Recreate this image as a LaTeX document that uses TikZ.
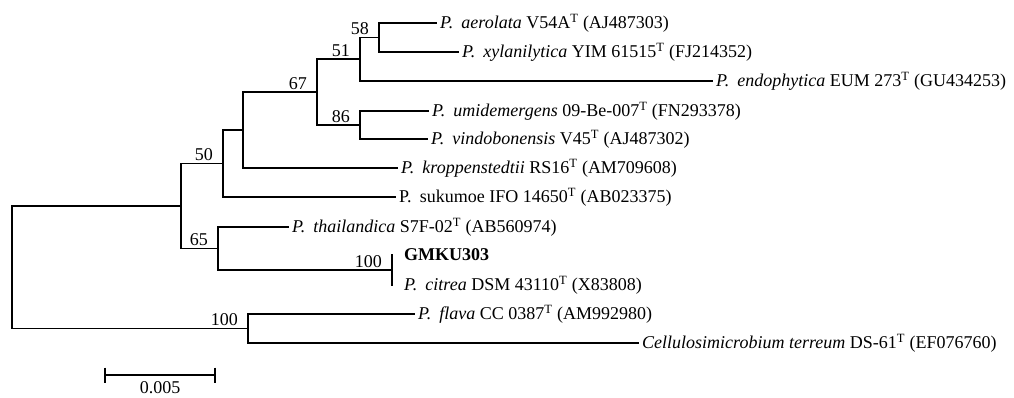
\documentclass[tikz,border=0pt]{standalone}
\usepackage{fontspec}
\setmainfont{Liberation Serif}
\usetikzlibrary{calc}
\newcommand{\gsp}{\hspace{0.45em}}
\newcommand{\supT}{\textsuperscript{T}}
\begin{document}
\begin{tikzpicture}[x=1pt,y=-1pt,
  br/.style={line width=1.7pt,line cap=rect},
  tip/.style={anchor=west,inner sep=0pt,xshift=4pt,font=\fontsize{18pt}{21pt}\selectfont},
  bs/.style={anchor=south east,inner sep=0pt,font=\fontsize{18pt}{21pt}\selectfont}]
\useasboundingbox (0,0) rectangle (1014,398);
% internal nodes
\coordinate (root) at (12,267);
\coordinate (nA) at (181,206);
\coordinate (n50) at (223,163.5);
\coordinate (nK) at (243,130);
\coordinate (n67) at (317,92);
\coordinate (n51) at (360,59);
\coordinate (n58) at (379,37.5);
\coordinate (n86) at (360,125);
\coordinate (n65) at (218,248.5);
\coordinate (n100a) at (392,270);
\coordinate (n100b) at (248,328.5);
% tips
\coordinate (eAer) at (436,23);
\coordinate (eXyl) at (458,52);
\coordinate (eEnd) at (712,81);
\coordinate (eUmi) at (428,111);
\coordinate (eVin) at (427,139);
\coordinate (eKro) at (397,168);
\coordinate (eSuk) at (395,197);
\coordinate (eTha) at (288,227);
\coordinate (eGmk) at (392,255);
\coordinate (eCit) at (392,285);
\coordinate (eFla) at (414,314);
\coordinate (eCel) at (638,343);
\node[tip] (tAer) at (eAer) {\textit{P.\gsp aerolata} V54A\supT{} (AJ487303)};
\node[tip] (tXyl) at (eXyl) {\textit{P.\gsp xylanilytica} YIM 61515\supT{} (FJ214352)};
\node[tip] (tEnd) at (eEnd) {\textit{P.\gsp endophytica} EUM 273\supT{} (GU434253)};
\node[tip] (tUmi) at (eUmi) {\textit{P.\gsp umidemergens} 09-Be-007\supT{} (FN293378)};
\node[tip] (tVin) at (eVin) {\textit{P.\gsp vindobonensis} V45\supT{} (AJ487302)};
\node[tip] (tKro) at (eKro) {\textit{P.\gsp kroppenstedtii} RS16\supT{} (AM709608)};
\node[tip] (tSuk) at (eSuk) {P.\gsp sukumoe IFO 14650\supT{} (AB023375)};
\node[tip] (tTha) at (eTha) {\textit{P.\gsp thailandica} S7F-02\supT{} (AB560974)};
\node[tip,xshift=8pt] (tGmk) at (eGmk) {\textbf{GMKU303}};
\node[tip,xshift=8pt] (tCit) at (eCit) {\textit{P.\gsp citrea} DSM 43110\supT{} (X83808)};
\node[tip] (tFla) at (eFla) {\textit{P.\gsp flava} CC 0387\supT{} (AM992980)};
\node[tip] (tCel) at (eCel) {\textit{Cellulosimicrobium terreum} DS-61\supT{} (EF076760)};
% branches
\draw[br] (root) |- (nA);
\draw[br] (root) |- (n100b);
\draw[br] (nA) |- (n50);
\draw[br] (nA) |- (n65);
\draw[br] (n50) |- (nK);
\draw[br] (n50) |- (eSuk);
\draw[br] (nK) |- (n67);
\draw[br] (nK) |- (eKro);
\draw[br] (n67) |- (n51);
\draw[br] (n67) |- (n86);
\draw[br] (n51) |- (n58);
\draw[br] (n51) |- (eEnd);
\draw[br] (n58) |- (eAer);
\draw[br] (n58) |- (eXyl);
\draw[br] (n86) |- (eUmi);
\draw[br] (n86) |- (eVin);
\draw[br] (n65) |- (eTha);
\draw[br] (n65) |- (n100a);
\draw[br] (eGmk) -- (eCit);
\draw[br] (n100b) |- (eFla);
\draw[br] (n100b) |- (eCel);
% bootstrap values
\node[bs] (b58) at ($(n58)+(-10,-2.5)$) {58};
\node[bs] (b51) at ($(n51)+(-10,-2.5)$) {51};
\node[bs] (b67) at ($(n67)+(-10,-2.5)$) {67};
\node[bs] (b86) at ($(n86)+(-10,-2.5)$) {86};
\node[bs] (b50) at ($(n50)+(-10,-2.5)$) {50};
\node[bs] (b65) at ($(n65)+(-10,-2.5)$) {65};
\node[bs] (b100a) at ($(n100a)+(-10,-2.5)$) {100};
\node[bs] (b100b) at ($(n100b)+(-10,-2.5)$) {100};
% scale bar
\coordinate (sL) at (105,375);
\coordinate (sR) at (215,375);
\draw[br,line cap=butt] (sL) -- (sR);
\draw[br,line cap=butt] ($(sL)+(0,-7.5)$) -- ($(sL)+(0,7.5)$);
\draw[br,line cap=butt] ($(sR)+(0,-7.5)$) -- ($(sR)+(0,7.5)$);
\node[anchor=north,inner sep=0pt,font=\fontsize{18pt}{21pt}\selectfont] (sLab) at ($(sL)!0.5!(sR)+(0,6)$) {0.005};
\end{tikzpicture}
\end{document}
